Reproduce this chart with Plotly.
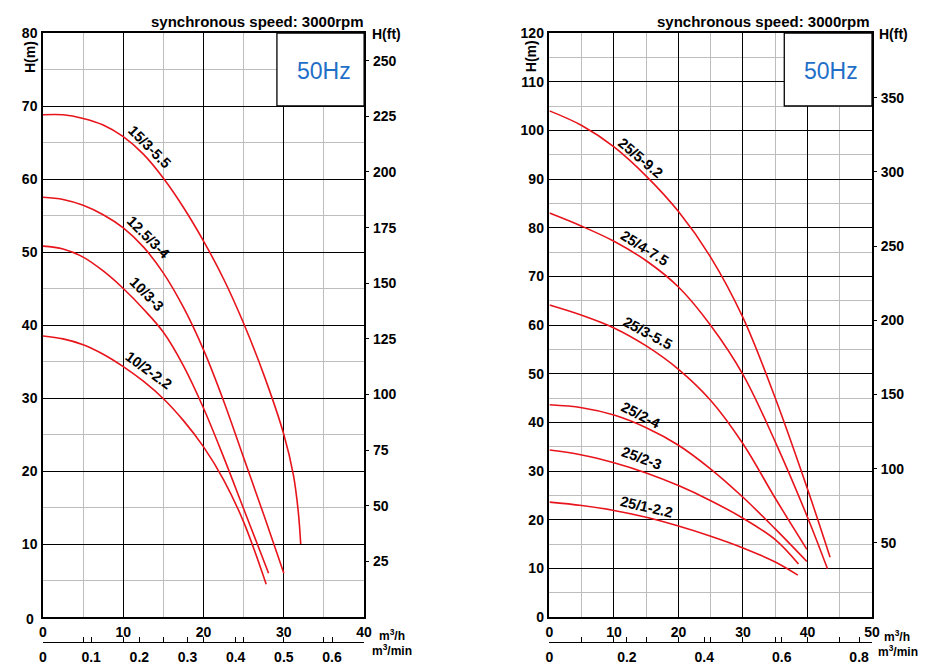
import plotly.graph_objects as go

# ---------------- data: left chart (m3/h vs m) ----------------
L_NAMES = ["15/3-5.5", "12.5/3-4", "10/3-3", "10/2-2.2"]
L_Q_15_3 = [0, 2.5, 5, 7.5, 10, 12.5, 15, 17.5, 20, 22.5, 25, 27.5, 30, 31.2, 31.8, 32.1]
L_H_15_3 = [68.8, 68.8, 68.3, 67.4, 65.8, 63.4, 60.1, 56.1, 51.5, 46.3, 40.2, 33.2, 25.0, 19.4, 14.4, 10.0]
L_Q_12_5 = [0, 2.5, 5, 7.5, 10, 12.5, 15, 17.5, 20, 22.5, 25, 27.5, 30]
L_H_12_5 = [57.5, 57.2, 56.4, 55.1, 53.3, 50.7, 47.1, 42.4, 36.6, 29.6, 21.8, 14.0, 6.0]
L_Q_10_3 = [0, 2.5, 5, 7.5, 10, 12.5, 15, 17.5, 20, 22.5, 25, 28.1]
L_H_10_3 = [50.8, 50.4, 49.3, 47.4, 45.0, 42.2, 39.0, 34.4, 28.6, 21.9, 14.8, 6.0]
L_Q_10_2 = [0, 2.5, 5, 7.5, 10, 12.5, 15, 17.5, 20, 22.5, 25, 27.8]
L_H_10_2 = [38.5, 38.1, 37.3, 36.0, 34.3, 32.3, 29.9, 26.9, 23.3, 18.8, 13.0, 4.5]
L_LABEL_Q = [13.3, 13.1, 12.9, 13.1]
L_LABEL_H = [64.4, 52.1, 44.2, 33.8]
L_LABEL_ANGLE = [45, 45, 45, 36]

# ---------------- data: right chart ----------------
R_NAMES = ["25/5-9.2", "25/4-7.5", "25/3-5.5", "25/2-4", "25/2-3", "25/1-2.2"]
R_Q_25_5 = [0, 5, 10, 15, 20, 25, 30, 35, 40, 43.5]
R_H_25_5 = [104.0, 101.0, 96.6, 90.6, 83.3, 73.9, 61.5, 45.0, 26.3, 12.3]
R_Q_25_4 = [0, 5, 10, 15, 20, 25, 30, 35, 40, 43.1]
R_H_25_4 = [83.0, 80.3, 77.2, 73.2, 67.8, 59.9, 49.8, 36.0, 20.5, 9.9]
R_Q_25_3 = [0, 5, 10, 15, 20, 25, 30, 35, 39.9]
R_H_25_3 = [64.1, 62.0, 59.4, 55.7, 50.9, 44.5, 35.6, 24.4, 13.9]
R_Q_25_2_4 = [0, 5, 10, 15, 20, 25, 30, 35, 39.9]
R_H_25_2_4 = [43.6, 43.0, 41.5, 38.9, 35.3, 30.4, 24.6, 18.1, 11.4]
R_Q_25_2_3 = [0, 5, 10, 15, 20, 25, 30, 35, 38.6]
R_H_25_2_3 = [34.3, 33.3, 31.7, 29.6, 27.0, 23.9, 20.3, 15.9, 10.9]
R_Q_25_1 = [0, 5, 10, 15, 20, 25, 30, 35, 38.5]
R_H_25_1 = [23.6, 22.9, 21.9, 20.5, 18.7, 16.6, 14.2, 11.3, 8.6]
R_LABEL_Q = [14.1, 14.7, 15.2, 14.1, 14.2, 15.1]
R_LABEL_H = [94.3, 75.8, 58.3, 41.5, 32.6, 22.7]
R_LABEL_ANGLE = [40, 32, 28, 27, 20, 13]

# axis ranges / ticks
L_QMAX, L_HMAX = 40, 80
R_QMAX, R_HMAX = 50, 120
L_FT_TICKS = [25, 50, 75, 100, 125, 150, 175, 200, 225, 250]
R_FT_TICKS = [50, 100, 150, 200, 250, 300, 350]
L_M_TICKS = [10, 20, 30, 40, 50, 60, 70, 80]
R_M_TICKS = [0, 10, 20, 30, 40, 50, 60, 70, 80, 90, 100, 110, 120]
FT_PER_M = 1 / 0.3048

# ---------------- layout geometry (screen pixels; page body has an 8px margin) ----------------
OX, OY = 8, 8
SCR_W, SCR_H = 934, 671
W, H = SCR_W - OX, SCR_H - OY
PLOT_L, PLOT_T, PLOT_R, PAPER_B = 43, 33, 871.7, 642
ML, MT = PLOT_L - OX, PLOT_T - OY
MR, MB = SCR_W - PLOT_R, SCR_H - PAPER_B
PW = PLOT_R - PLOT_L
PH = PAPER_B - PLOT_T


def px(x):
    return (x - PLOT_L) / PW


def py(y):
    return (PAPER_B - y) / PH


FONT = "Liberation Sans, Arial, sans-serif"
RED = "#e8141c"
BLUE = "#1f6fc8"
GREY = "#bdbdbd"

fig = go.Figure()

left_series = [(L_Q_15_3, L_H_15_3), (L_Q_12_5, L_H_12_5), (L_Q_10_3, L_H_10_3), (L_Q_10_2, L_H_10_2)]
for name, (q, h) in zip(L_NAMES, left_series):
    fig.add_trace(go.Scatter(x=q, y=h, mode="lines", name=name, xaxis="x", yaxis="y",
                             line=dict(color=RED, width=1.6, shape="spline", smoothing=1.0),
                             showlegend=False))
right_series = [(R_Q_25_5, R_H_25_5), (R_Q_25_4, R_H_25_4), (R_Q_25_3, R_H_25_3),
                (R_Q_25_2_4, R_H_25_2_4), (R_Q_25_2_3, R_H_25_2_3), (R_Q_25_1, R_H_25_1)]
for name, (q, h) in zip(R_NAMES, right_series):
    fig.add_trace(go.Scatter(x=q, y=h, mode="lines", name=name, xaxis="x3", yaxis="y3",
                             line=dict(color=RED, width=1.6, shape="spline", smoothing=1.0),
                             showlegend=False))

# invisible helper traces so the secondary axes are drawn
for xa, ya in [("x2", "y"), ("x", "y2"), ("x4", "y3"), ("x3", "y4")]:
    fig.add_trace(go.Scatter(x=[None], y=[None], xaxis=xa, yaxis=ya, showlegend=False,
                             hoverinfo="skip", mode="markers"))

dom_left = [0, px(364)]
dom_right = [px(549.3), 1]
dom_y = [py(617), 1]

tickfont = dict(family=FONT, size=14, color="black", weight="bold")


def main_x(domain, rng, anchor):
    return dict(domain=domain, range=[0, rng], anchor=anchor, dtick=10, tick0=0,
                showgrid=True, gridcolor="black", gridwidth=1.3,
                minor=dict(dtick=5, showgrid=True, gridcolor=GREY, gridwidth=1),
                showline=True, linecolor="black", linewidth=1.5, mirror=True,
                ticks="", zeroline=False, tickfont=tickfont, ticklabelstandoff=1,
                automargin=False, fixedrange=True)


def main_y(rng, anchor, tickvals):
    return dict(domain=dom_y, range=[0, rng], anchor=anchor, tickvals=tickvals,
                showgrid=True, gridcolor="black", gridwidth=1.3,
                minor=dict(dtick=5, showgrid=True, gridcolor=GREY, gridwidth=1),
                showline=True, linecolor="black", linewidth=1.5, mirror=True,
                ticks="", zeroline=False, tickfont=tickfont, ticklabelstandoff=1,
                automargin=False, fixedrange=True)


def ft_y(rng, overlay, anchor, tickvals):
    return dict(range=[0, rng * FT_PER_M], overlaying=overlay, anchor=anchor, side="right",
                tickvals=tickvals, showgrid=False, zeroline=False, ticks="outside",
                ticklen=4, tickcolor="black", tickwidth=1, showline=False,
                tickfont=tickfont, ticklabelstandoff=1, automargin=False, fixedrange=True)


def min_x(rng, overlay, dtick):
    return dict(range=[0, rng / 60], overlaying=overlay, anchor="free", position=0,
                dtick=dtick, tick0=0, showgrid=False, zeroline=False, showline=True,
                linecolor="black", linewidth=1.3, ticks="inside", ticklen=5,
                tickcolor="black", tickwidth=1,
                minor=dict(dtick=5 / 60, ticks="inside", ticklen=5, tickcolor="black",
                           tickwidth=1, showgrid=False),
                tickfont=tickfont, ticklabelstandoff=2, automargin=False, fixedrange=True)


fig.update_layout(
    width=W, height=H, autosize=False,
    margin=dict(l=ML, r=MR, t=MT, b=MB, pad=0),
    paper_bgcolor="white", plot_bgcolor="white",
    showlegend=False,
    xaxis=main_x(dom_left, L_QMAX, "y"),
    yaxis=main_y(L_HMAX, "x", L_M_TICKS),
    yaxis2=ft_y(L_HMAX, "y", "x", L_FT_TICKS),
    xaxis2=min_x(L_QMAX, "x", 0.1),
    xaxis3=main_x(dom_right, R_QMAX, "y3"),
    yaxis3=main_y(R_HMAX, "x3", R_M_TICKS),
    yaxis4=ft_y(R_HMAX, "y3", "x3", R_FT_TICKS),
    xaxis4=min_x(R_QMAX, "x3", 0.2),
)

# 50Hz boxes
fig.add_shape(type="rect", xref="x", yref="y", x0=29.14, x1=L_QMAX, y0=70, y1=L_HMAX,
              fillcolor="white", line=dict(color="black", width=1.3), layer="above")
fig.add_shape(type="rect", xref="x3", yref="y3", x0=36.4, x1=R_QMAX, y0=105.0, y1=R_HMAX,
              fillcolor="white", line=dict(color="black", width=1.3), layer="above")

ann = []
for name, q, h, a in zip(L_NAMES, L_LABEL_Q, L_LABEL_H, L_LABEL_ANGLE):
    ann.append(dict(x=q, y=h, xref="x", yref="y", text=name, textangle=a, showarrow=False,
                    font=dict(family=FONT, size=14.5, color="black", weight="bold")))
for name, q, h, a in zip(R_NAMES, R_LABEL_Q, R_LABEL_H, R_LABEL_ANGLE):
    ann.append(dict(x=q, y=h, xref="x3", yref="y3", text=name, textangle=a, showarrow=False,
                    font=dict(family=FONT, size=14.5, color="black", weight="bold")))


def pann(text, x, y, size=14, color="black", xanchor="center", angle=0, weight="bold"):
    return dict(x=px(x), y=py(y), xref="paper", yref="paper", text=text, showarrow=False,
                xanchor=xanchor, yanchor="middle", textangle=angle,
                font=dict(family=FONT, size=size, color=color, weight=weight))


ann += [
    pann("synchronous speed: 3000rpm", 366, 21, size=15, xanchor="right"),
    pann("synchronous speed: 3000rpm", 872, 21, size=15, xanchor="right"),
    pann("50Hz", 324, 71, size=23, color=BLUE, weight="normal"),
    pann("50Hz", 831, 71, size=23, color=BLUE, weight="normal"),
    pann("H(ft)", 370, 34, size=14, xanchor="left"),
    pann("H(ft)", 877, 34, size=14, xanchor="left"),
    pann("H(m)", 30, 57, size=14, angle=-90),
    pann("H(m)", 531, 56, size=14, angle=-90),
    pann("0", 30, 619, size=14),
    pann("m<sup>3</sup>/h", 392, 635, size=12),
    pann("m<sup>3</sup>/min", 392, 650, size=12),
    pann("m<sup>3</sup>/h", 897, 636, size=12),
    pann("m<sup>3</sup>/min", 898, 651, size=12),
]
fig.update_layout(annotations=ann)

fig.write_html("out.html")
